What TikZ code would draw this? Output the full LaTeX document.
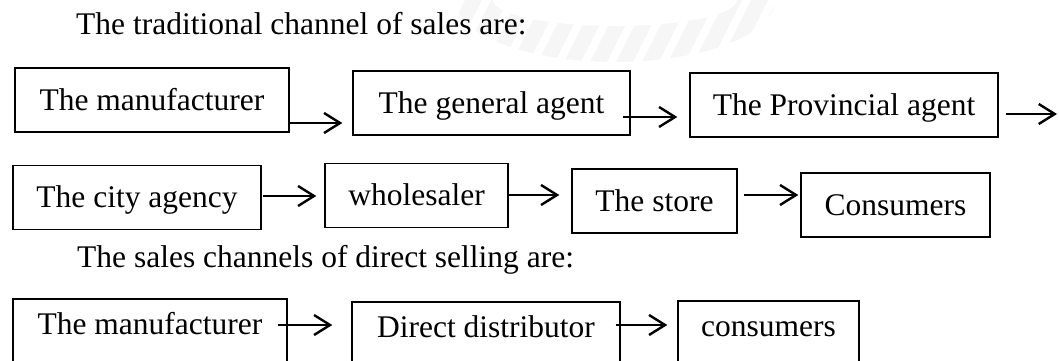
\documentclass[tikz,border=0pt]{standalone}
\usepackage{fontspec}
\setmainfont{Liberation Serif}
\usetikzlibrary{arrows.meta}
\begin{document}
\begin{tikzpicture}[x=1pt,y=-1pt,
  every node/.style={font=\fontsize{31.5}{36}\selectfont},
  box/.style={draw, line width=1.4pt, inner sep=0pt, text height=28.35pt,
    text depth=7.5pt, minimum height=64pt},
  lowbox/.style={box, text height=28.35pt, text depth=21.5pt},
  arr/.style={line width=2.4pt, -{Straight Barb[length=16pt,width=20pt]}},
  title/.style={anchor=base west, inner sep=0pt}]
\useasboundingbox (0,0) rectangle (1059,361);

% faint seal in the background
\begin{scope}
  \clip (615,0) ellipse [x radius=160, y radius=62];
  \foreach \i in {0,...,14}
    \fill[gray!7] (430+\i*26,70) -- ++(17,0) -- ++(40,-80) -- ++(-17,0) -- cycle;
  \fill[white] (615,0) ellipse [x radius=122, y radius=26];
\end{scope}

% headings
\node[title] (t1) at (76,35) {The traditional channel of sales are:};
\node[title] (t2) at (77,267) {The sales channels of direct selling are:};

% traditional channel, first line
\node[box, minimum width=274pt] (m1) at (152,100) {The manufacturer};
\node[box, minimum width=277pt] (g) at (491.5,103) {The general agent};
\node[box, minimum width=308pt] (p) at (844,105) {The Provincial agent};
\coordinate (out) at (1057,114);

% traditional channel, second line
\node[box, minimum width=248pt] (c) at (137,197.5) {The city agency};
\node[box, minimum width=183pt] (w) at (416.5,195.5) {wholesaler};
\node[box, minimum width=165pt] (s) at (654.5,201) {The store};
\node[box, minimum width=189pt] (C) at (895.5,205) {Consumers};

% direct selling
\node[lowbox, minimum width=274pt] (M) at (150,331) {The manufacturer};
\node[lowbox, minimum width=268pt] (D) at (486,334) {Direct distributor};
\node[lowbox, minimum width=181pt] (k) at (768.5,333) {consumers};

% arrow start points
\coordinate (a1) at ([shift={(-2,23)}]m1.east);
\coordinate (a2) at ([shift={(-8,14)}]g.east);
\coordinate (a3) at ([shift={(7,9)}]p.east);
\coordinate (b1) at ([shift={(1,-1.5)}]c.east);
\coordinate (b2) at ([shift={(0,-0.5)}]w.east);
\coordinate (b3) at ([shift={(6,-6)}]s.east);
\coordinate (d1) at ([shift={(-10,-6)}]M.east);
\coordinate (d2) at ([shift={(-5,-9)}]D.east);

\draw[arr, shorten >=10pt] (a1) -- (a1 -| g.west);
\draw[arr, shorten >=12pt] (a2) -- (a2 -| p.west);
\draw[arr] (a3) -- (out);
\draw[arr, shorten >=8pt] (b1) -- (b1 -| w.west);
\draw[arr, shorten >=12pt] (b2) -- (b2 -| s.west);
\draw[arr, shorten >=2pt] (b3) -- (b3 -| C.west);
\draw[arr, shorten >=19pt] (d1) -- (d1 -| D.west);
\draw[arr, shorten >=10pt] (d2) -- (d2 -| k.west);
\end{tikzpicture}
\end{document}
